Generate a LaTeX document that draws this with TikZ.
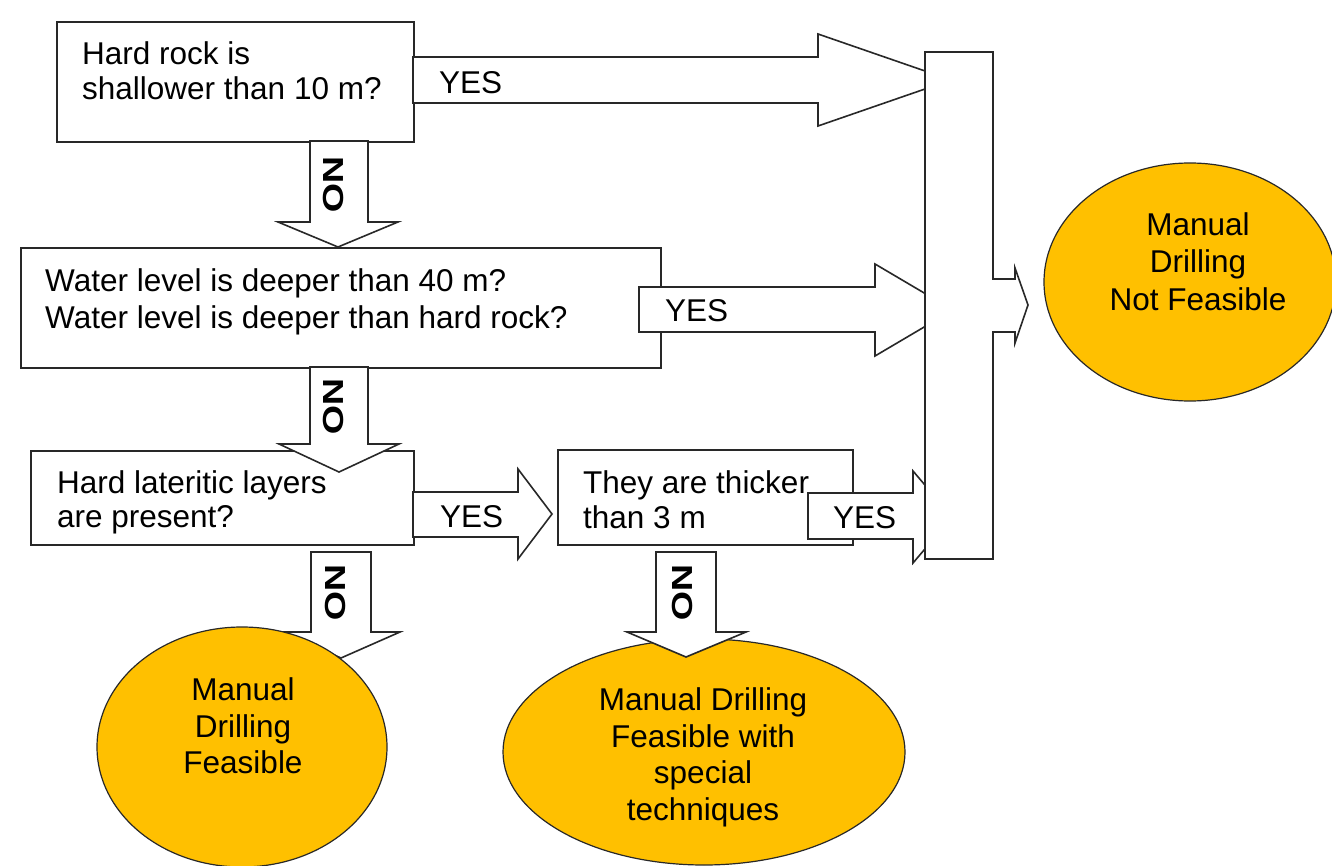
\documentclass[tikz,border=0pt]{standalone}
\usepackage{fontspec}
\setmainfont{Liberation Sans}
\usetikzlibrary{shapes.geometric}
\definecolor{gold}{RGB}{255,192,0}
\definecolor{ink}{RGB}{40,40,40}
\begin{document}
\begin{tikzpicture}[x=1pt,y=-1pt,line join=miter,
  box/.style={draw=ink,fill=white,line width=1.6pt,rectangle,inner sep=0pt,anchor=north west},
  blockarrow/.style={draw=ink,fill=white,line width=1.6pt},
  txt/.style={font=\fontsize{31.5}{36}\selectfont,inner sep=0pt,text=black},
  notxt/.style={font=\fontsize{29}{34}\selectfont\bfseries,inner sep=0pt,rotate=-90,text=black},
  goal/.style={ellipse,draw=ink,fill=gold,line width=1.2pt,inner sep=0pt}]
\useasboundingbox (0,0) rectangle (1332,866);
\fill[white] (0,0) rectangle (1332,866);
% question boxes
\node[box,minimum width=357pt,minimum height=120pt] (q1) at (56,21) {};
\node[box,minimum width=640pt,minimum height=120pt] (q2) at (20,247) {};
\node[box,minimum width=383pt,minimum height=94pt] (q3) at (30,450) {};
\node[box,minimum width=295pt,minimum height=95pt] (q4) at (557,449) {};
% YES arrows
\draw[blockarrow] (413,57) -- (818,57) -- (818,34) -- (951,80) -- (818,126) -- (818,103) -- (413,103) -- cycle;
\draw[blockarrow] (639,287) -- (875,287) -- (875,264) -- (953,310) -- (875,356) -- (875,332) -- (639,332) -- cycle;
\draw[blockarrow] (413,492) -- (518,492) -- (518,469) -- (552,514) -- (518,559) -- (518,537) -- (413,537) -- cycle;
\draw[blockarrow] (808,493) -- (913,493) -- (913,471) -- (952,517) -- (913,563) -- (913,539) -- (808,539) -- cycle;
% NO arrows
\draw[blockarrow] (310,141) -- (310,222) -- (278,222) -- (338,247) -- (398,222) -- (368,222) -- (368,141) -- cycle;
\draw[blockarrow] (310,367) -- (310,444) -- (279,444) -- (339,472) -- (399,444) -- (368,444) -- (368,367) -- cycle;
\draw[blockarrow] (311,552) -- (311,632) -- (282,632) -- (341,658) -- (400,632) -- (371,632) -- (371,552) -- cycle;
% outcome ellipses
\node[goal,minimum width=290pt,minimum height=240pt] (e1) at (242,747) {};
\node[goal,minimum width=402pt,minimum height=226pt] (e2) at (704,752) {};
\draw[blockarrow] (656,552) -- (656,632) -- (627,632) -- (686,657) -- (746,632) -- (716,632) -- (716,552) -- cycle;
% collecting bar with arrow
\draw[blockarrow] (925,52) -- (993,52) -- (993,279) -- (1015,279) -- (1015,268) -- (1028,305) -- (1015,343) -- (1015,332) -- (993,332) -- (993,559) -- (925,559) -- cycle;
\node[goal,minimum width=292pt,minimum height=238pt] (e3) at (1190,282) {};
% texts
\node[txt,anchor=base west] (t1a) at (82,65) {Hard rock is};
\node[txt,anchor=base west] (t1b) at (82,100) {shallower than 10 m?};
\node[txt,anchor=base west] (t2a) at (45,292) {Water level is deeper than 40 m?};
\node[txt,anchor=base west] (t2b) at (45,328) {Water level is deeper than hard rock?};
\node[txt,anchor=base west] (t3a) at (57,493) {Hard lateritic layers};
\node[txt,anchor=base west] (t3b) at (57,527) {are present?};
\node[txt,anchor=base west] (t4a) at (583,493) {They are thicker};
\node[txt,anchor=base west] (t4b) at (583,528) {than 3 m};
\node[txt,anchor=base west] (y1) at (439,94) {YES};
\node[txt,anchor=base west] (y2) at (665,322) {YES};
\node[txt,anchor=base west] (y3) at (440,527) {YES};
\node[txt,anchor=base west] (y4) at (833,528) {YES};
\node[notxt] (n1) at (333,185) {\scalebox{1.3}[1]{NO}};
\node[notxt] (n2) at (333,407) {\scalebox{1.3}[1]{NO}};
\node[notxt] (n3) at (335,593) {\scalebox{1.3}[1]{NO}};
\node[notxt] (n4) at (682,593) {\scalebox{1.3}[1]{NO}};
\node[txt,anchor=base] (e1a) at (243,700) {Manual};
\node[txt,anchor=base] (e1b) at (243,737) {Drilling};
\node[txt,anchor=base] (e1c) at (243,773) {Feasible};
\node[txt,anchor=base] (e2a) at (703,710) {Manual Drilling};
\node[txt,anchor=base] (e2b) at (703,747) {Feasible with};
\node[txt,anchor=base] (e2c) at (703,783) {special};
\node[txt,anchor=base] (e2d) at (703,820) {techniques};
\node[txt,anchor=base] (e3a) at (1198,236) {Manual};
\node[txt,anchor=base] (e3b) at (1198,273) {Drilling};
\node[txt,anchor=base] (e3c) at (1198,310) {Not Feasible};
\end{tikzpicture}
\end{document}
